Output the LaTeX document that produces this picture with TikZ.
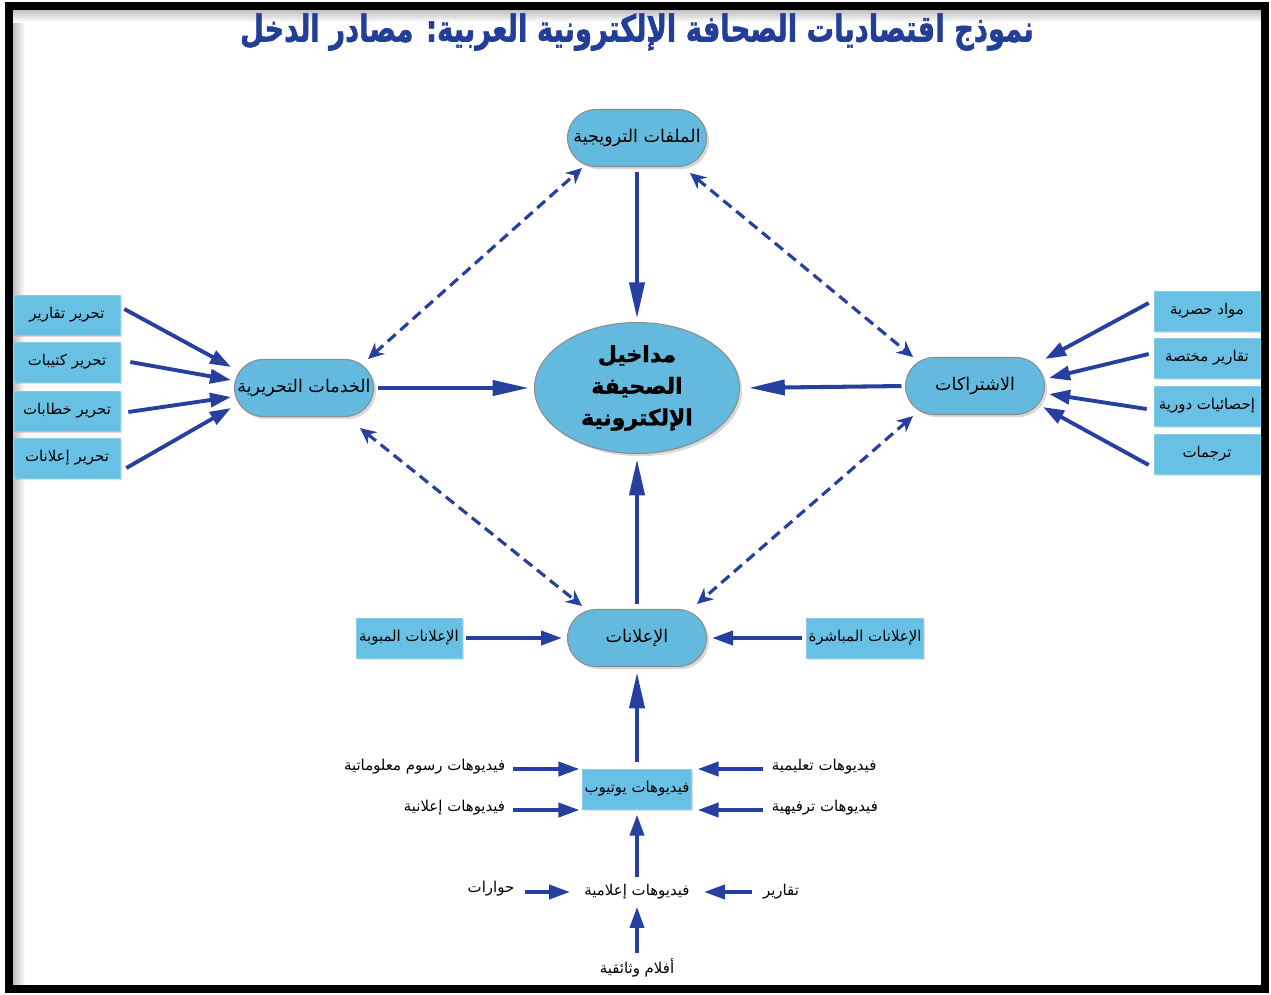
\documentclass[tikz,border=0pt]{standalone}
\usepackage{fontspec}
\newfontfamily\arabicfont[Script=Arabic]{DejaVu Sans}
\newfontfamily\arabicheavy[Script=Arabic,BoldFeatures={FakeBold=1.6}]{DejaVu Sans}
\TeXXeTstate=1
\usetikzlibrary{arrows.meta,calc,shapes.misc,shapes.geometric,shadows}

\definecolor{arrowblue}{RGB}{38,64,160}
\definecolor{boxblue}{RGB}{104,192,228}
\definecolor{pillblue}{RGB}{100,186,222}
\definecolor{titleblue}{RGB}{35,62,150}
\newcommand{\artxt}[1]{{\arabicfont\beginR #1\endR}}
\newcommand{\arheavy}[1]{{\arabicheavy\bfseries\beginR #1\endR}}

\begin{document}
\begin{tikzpicture}[x=0.02cm,y=-0.02cm,
  frame/.style={draw=black,line width=0.16cm},
  pill/.style={rounded rectangle,draw=black!45,fill=pillblue,line width=0.6pt,minimum width=2.92cm,minimum height=1.14cm,inner sep=2pt,font=\fontsize{10}{12}\selectfont,drop shadow={shadow xshift=1.5pt,shadow yshift=-1.5pt,opacity=0.3}},
  corenode/.style={ellipse,draw=black!45,fill=pillblue,line width=0.6pt,minimum width=4.1cm,minimum height=2.62cm,inner sep=1pt,align=center,font=\fontsize{12.5}{18}\selectfont,drop shadow={shadow xshift=1.5pt,shadow yshift=-1.5pt,opacity=0.3}},
  srcbox/.style={rectangle,draw=boxblue!80!white,fill=boxblue,minimum width=2.12cm,minimum height=0.8cm,inner sep=1pt,font=\fontsize{8.5}{10}\selectfont,drop shadow={shadow xshift=1.2pt,shadow yshift=-1.2pt,opacity=0.25}},
  plain/.style={inner sep=2pt,font=\fontsize{8.5}{10}\selectfont},
  arrow/.style={-{Triangle[length=0.42cm,width=0.28cm]},line width=2.2pt,draw=arrowblue},
  bigarrow/.style={-{Triangle[length=0.72cm,width=0.3cm]},line width=2.3pt,draw=arrowblue},
  dasharrow/.style={{Stealth[length=0.32cm,width=0.3cm]}-{Stealth[length=0.32cm,width=0.3cm]},line width=1.8pt,draw=arrowblue,dash pattern=on 6pt off 3.5pt}
]
\useasboundingbox (0,0) rectangle (1271,994);
% frame with its soft inner shade on top and left
\shade[left color=black!25,right color=white] (13,10) rectangle (25,985);
\shade[top color=black!25,bottom color=white] (13,10) rectangle (1261,22);
\draw[frame] (9,6) rectangle (1265,988.5);

% title
\node[text=titleblue,font=\fontsize{15.6}{19}\selectfont] (title) at (637,32)
  {\scalebox{1}[1.35]{\arheavy{نموذج اقتصاديات الصحافة الإلكترونية العربية: مصادر الدخل}}};

% main nodes
\node[corenode] (core) at (637,388) {\arheavy{مداخيل}\\\arheavy{الصحيفة}\\\arheavy{الإلكترونية}};
\node[pill] (promo) at (637,138) {\artxt{الملفات الترويجية}};
\node[pill] (edit) at (304,388) {\artxt{الخدمات التحريرية}};
\node[pill] (subs) at (975,386) {\artxt{الاشتراكات}};
\node[pill] (ads) at (637,638) {\artxt{الإعلانات}};

% editorial sources
\node[srcbox] (e1) at (67,315) {\artxt{تحرير تقارير}};
\node[srcbox] (e2) at (67,362) {\artxt{تحرير كتيبات}};
\node[srcbox] (e3) at (67,411) {\artxt{تحرير خطابات}};
\node[srcbox] (e4) at (67,458) {\artxt{تحرير إعلانات}};

% subscription sources
\node[srcbox] (s1) at (1207,311) {\artxt{مواد حصرية}};
\node[srcbox] (s2) at (1207,358) {\artxt{تقارير مختصة}};
\node[srcbox] (s3) at (1207,406) {\artxt{إحصائيات دورية}};
\node[srcbox] (s4) at (1207,454) {\artxt{ترجمات}};

% advertising sources
\node[srcbox] (adcls) at (409,638) {\artxt{الإعلانات المبوبة}};
\node[srcbox] (addir) at (865,638) {\artxt{الإعلانات المباشرة}};
\node[srcbox] (ytube) at (637,789) {\artxt{فيديوهات يوتيوب}};

% video sources
\node[plain,anchor=east] (yinfo) at (509,767) {\artxt{فيديوهات رسوم معلوماتية}};
\node[plain,anchor=east] (yadv) at (509,808) {\artxt{فيديوهات إعلانية}};
\node[plain,anchor=west] (yedu) at (768,767) {\artxt{فيديوهات تعليمية}};
\node[plain,anchor=west] (yfun) at (768,808) {\artxt{فيديوهات ترفيهية}};
\node[plain] (media) at (637,892) {\artxt{فيديوهات إعلامية}};
\node[plain] (mtalk) at (491,889) {\artxt{حوارات}};
\node[plain] (mrep) at (781,892) {\artxt{تقارير}};
\node[plain] (mdoc) at (637,968) {\artxt{أفلام وثائقية}};

% into the core
\draw[bigarrow,shorten <=3pt,shorten >=2pt] (promo.south) -- (core.north);
\draw[bigarrow,shorten <=2pt,shorten >=3pt] (edit.east) -- (core.west);
\draw[bigarrow,shorten <=2pt,shorten >=5pt] (subs.west) -- (core.east);
\draw[bigarrow,shorten <=3pt,shorten >=3pt] (ads.north) -- (core.south);

% two-way links between the revenue sources
\draw[dasharrow] ($(edit.north)+(64,0)$) -- ($(promo.south)+(-55,1)$);
\draw[dasharrow] ($(promo.south)+(53,6)$) -- ($(subs.north)+(-62,0)$);
\draw[dasharrow] ($(edit.south)+(56,11)$) -- ($(ads.north)+(-55,-3)$);
\draw[dasharrow] ($(subs.south)+(-62,1)$) -- ($(ads.north)+(60,-5)$);

% editorial services
\draw[arrow] ($(e1.east)+(4,-6)$) -- ($(edit.west)+(-3,-21)$);
\draw[arrow] ($(e2.east)+(10,0)$) -- ($(edit.west)+(-3,-8)$);
\draw[arrow] ($(e3.east)+(8,1)$) -- ($(edit.west)+(-3,9)$);
\draw[arrow] ($(e4.east)+(6,10)$) -- ($(edit.west)+(-3,20)$);

% subscriptions
\draw[arrow] ($(s1.west)+(-5,-8)$) -- ($(subs.east)+(0,-27)$);
\draw[arrow] ($(s2.west)+(-5,-4)$) -- ($(subs.east)+(4,-8)$);
\draw[arrow] ($(s3.west)+(-7,3)$) -- ($(subs.east)+(4,8)$);
\draw[arrow] ($(s4.west)+(-5,11)$) -- ($(subs.east)+(-2,21)$);

% advertising
\draw[arrow] ($(adcls.east)+(4,0)$) -- ($(ads.west)+(-5,0)$);
\draw[arrow] ($(addir.west)+(-4,0)$) -- ($(ads.east)+(5,0)$);
\draw[bigarrow,shorten <=4pt,shorten >=3pt] (ytube.north) -- (ads.south);

% youtube videos
\draw[arrow] ($(yinfo.east)+(4,2)$) -- ($(ytube.west)+(-3,-20)$);
\draw[arrow] ($(yadv.east)+(4,2)$) -- ($(ytube.west)+(-3,21)$);
\draw[arrow] ($(yedu.west)+(-5,2)$) -- ($(ytube.east)+(6,-20)$);
\draw[arrow] ($(yfun.west)+(-5,2)$) -- ($(ytube.east)+(6,21)$);
\draw[arrow,shorten <=2pt,shorten >=3pt] (media.north) -- (ytube.south);

% media videos
\draw[arrow,shorten <=4pt,shorten >=6pt] (mtalk.east|-media.center) -- (media.west);
\draw[arrow,shorten <=4pt,shorten >=6pt] (mrep.west|-media.center) -- (media.east);
\draw[arrow,shorten <=1pt,shorten >=2pt] (mdoc.north) -- (media.south);
\end{tikzpicture}
\end{document}
